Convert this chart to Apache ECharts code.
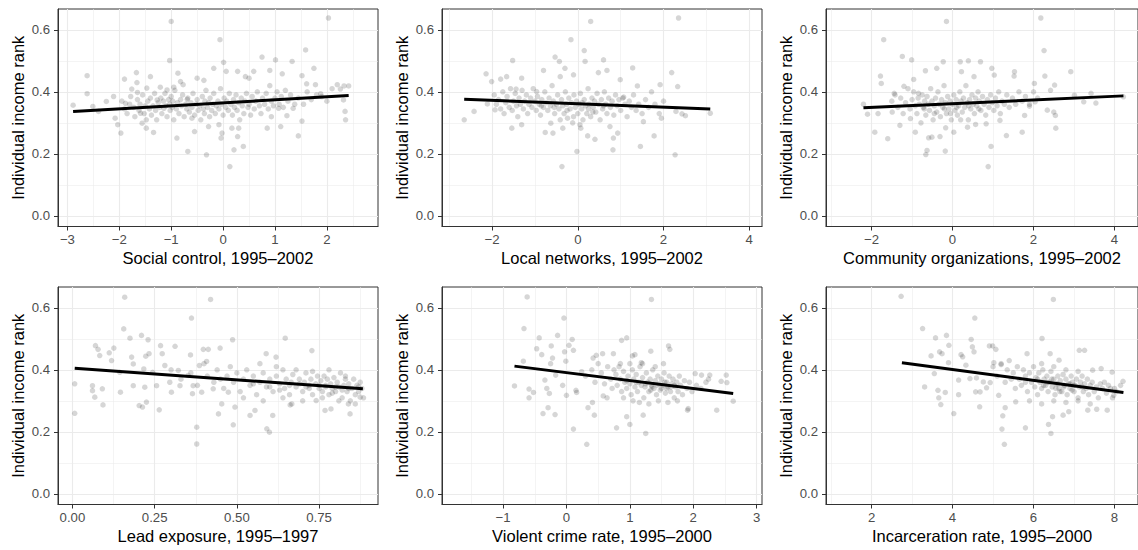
<!DOCTYPE html>
<html><head><meta charset="utf-8">
<script src="https://cdn.jsdelivr.net/npm/echarts@6/dist/echarts.min.js"></script>
<style>html,body{margin:0;padding:0;background:#fff}#c{width:1138px;height:550px}</style>
</head><body><div id="c"></div>
<script>
// ---------- DATA ----------
const yTicks = [0, 0.2, 0.4, 0.6];
const yTitle = 'Individual income rank';

const socialTicks = [-3, -2, -1, 0, 1, 2];
const networksTicks = [-2, 0, 2, 4];
const communityTicks = [-2, 0, 2, 4];
const leadTicks = [0, 0.25, 0.5, 0.75];
const crimeTicks = [-1, 0, 1, 2, 3];
const incarcTicks = [2, 4, 6, 8];

const socialFit = [[-2.89, 0.337], [2.42, 0.388]];
const networksFit = [[-2.65, 0.376], [3.09, 0.345]];
const communityFit = [[-2.20, 0.349], [4.22, 0.387]];
const leadFit = [[0.007, 0.405], [0.883, 0.339]];
const crimeFit = [[-0.82, 0.412], [2.63, 0.324]];
const incarcFit = [[2.75, 0.423], [8.22, 0.327]];

const socialPts = [
[-2.89,0.357],[-2.62,0.452],[-2.62,0.394],[-2.51,0.353],[-2.40,0.337],[-2.25,0.369],[-2.11,0.385],[-2.08,0.315],[-2.03,0.294],[-1.97,0.267],
[-1.90,0.441],[-1.88,0.363],[-1.76,0.409],[-1.67,0.462],[-1.66,0.430],[-1.65,0.398],[-1.59,0.331],[-1.56,0.299],[-1.48,0.283],[-1.47,0.412],
[-1.40,0.449],[-1.34,0.269],[-1.27,0.374],[-1.21,0.415],[-1.14,0.347],[-1.08,0.406],[-1.03,0.501],[-1.00,0.627],[-0.95,0.415],[-0.89,0.251],
[-0.87,0.460],[-0.82,0.433],[-0.77,0.423],[-0.69,0.376],[-0.68,0.208],[-0.60,0.315],[-0.55,0.272],[-0.50,0.444],[-0.37,0.437],[-0.32,0.197],
[-0.28,0.288],[-0.18,0.476],[-0.08,0.294],[-0.06,0.568],[-0.04,0.251],[-0.02,0.267],[0.01,0.495],[0.06,0.466],[0.13,0.159],[0.17,0.283],
[0.21,0.213],[0.28,0.466],[0.28,0.256],[0.30,0.283],[0.39,0.224],[0.43,0.449],[0.50,0.444],[0.59,0.466],[0.75,0.512],[0.85,0.283],
[0.90,0.469],[0.93,0.320],[1.01,0.503],[1.07,0.347],[1.11,0.288],[1.14,0.458],[1.23,0.323],[1.33,0.498],[1.35,0.347],[1.45,0.258],
[1.52,0.306],[1.52,0.452],[1.59,0.535],[1.61,0.426],[1.75,0.476],[1.78,0.423],[1.88,0.394],[2.03,0.638],[2.20,0.423],[2.26,0.409],
[2.32,0.374],[2.33,0.419],[2.35,0.337],[2.36,0.310],[2.42,0.419],
[-1.95,0.37],[-1.9,0.345],[-1.85,0.33],[-1.8,0.36],[-1.78,0.385],[-1.72,0.35],[-1.7,0.32],[-1.65,0.375],[-1.62,0.34],[-1.6,0.36],
[-1.55,0.39],[-1.52,0.33],[-1.5,0.355],[-1.48,0.31],[-1.45,0.37],[-1.42,0.345],[-1.4,0.38],[-1.38,0.325],[-1.35,0.355],[-1.32,0.395],
[-1.3,0.34],[-1.28,0.31],[-1.25,0.365],[-1.22,0.35],[-1.2,0.38],[-1.18,0.33],[-1.15,0.37],[-1.12,0.395],[-1.1,0.355],[-1.08,0.32],
[-1.05,0.375],[-1.03,0.36],[-1.02,0.34],[-1.0,0.385],[-0.98,0.35],[-0.97,0.37],[-0.95,0.31],[-0.93,0.405],[-0.9,0.345],[-0.88,0.365],
[-0.85,0.33],[-0.82,0.375],[-0.8,0.355],[-0.78,0.39],[-0.75,0.32],[-0.72,0.36],[-0.7,0.345],[-0.68,0.38],[-0.65,0.335],[-0.62,0.365],
[-0.6,0.35],[-0.58,0.395],[-0.55,0.325],[-0.52,0.36],[-0.5,0.375],[-0.48,0.34],[-0.45,0.355],[-0.43,0.31],[-0.4,0.385],[-0.38,0.345],
[-0.36,0.33],[-0.35,0.37],[-0.33,0.405],[-0.3,0.35],[-0.28,0.365],[-0.26,0.32],[-0.25,0.38],[-0.22,0.34],[-0.2,0.36],[-0.18,0.395],
[-0.15,0.33],[-0.13,0.355],[-0.1,0.37],[-0.08,0.345],[-0.05,0.41],[-0.03,0.36],[0.0,0.325],[0.02,0.38],[0.05,0.35],[0.07,0.37],
[0.1,0.34],[0.12,0.395],[0.15,0.36],[0.18,0.325],[0.2,0.375],[0.22,0.35],[0.25,0.39],[0.27,0.34],[0.3,0.365],[0.32,0.31],
[0.35,0.38],[0.37,0.355],[0.4,0.33],[0.42,0.37],[0.45,0.395],[0.48,0.35],[0.5,0.36],[0.53,0.325],[0.56,0.385],[0.6,0.345],
[0.63,0.37],[0.66,0.4],[0.7,0.355],[0.73,0.33],[0.76,0.38],[0.8,0.36],[0.83,0.395],[0.87,0.345],[0.9,0.42],[0.93,0.37],
[0.97,0.355],[1.0,0.38],[1.04,0.4],[1.08,0.36],[1.12,0.385],[1.16,0.35],[1.2,0.405],[1.25,0.37],[1.3,0.39],[1.38,0.36],
[1.45,0.38],[1.55,0.36],[1.62,0.4],[1.7,0.375],[1.8,0.39],[1.9,0.385],[2.0,0.37],[2.1,0.41]
];

const networksPts = [
[-2.65,0.310],[-2.42,0.337],[-2.14,0.458],[-2.11,0.361],[-2.01,0.433],[-1.93,0.342],[-1.80,0.441],[-1.66,0.449],[-1.54,0.283],[-1.52,0.501],
[-1.44,0.409],[-1.31,0.294],[-1.31,0.444],[-0.96,0.401],[-0.80,0.469],[-0.76,0.269],[-0.63,0.299],[-0.58,0.267],[-0.53,0.512],[-0.43,0.498],
[-0.41,0.449],[-0.37,0.159],[-0.35,0.283],[-0.30,0.476],[-0.16,0.568],[-0.10,0.455],[-0.02,0.208],[0.05,0.294],[0.07,0.283],[0.15,0.533],
[0.17,0.498],[0.23,0.258],[0.30,0.627],[0.40,0.247],[0.48,0.462],[0.60,0.503],[0.68,0.469],[0.75,0.288],[0.82,0.213],[0.83,0.251],
[0.93,0.267],[0.99,0.439],[1.07,0.383],[1.28,0.477],[1.39,0.419],[1.46,0.224],[1.53,0.304],[1.78,0.258],[1.92,0.423],[1.95,0.315],
[2.19,0.462],[2.27,0.197],[2.29,0.337],[2.33,0.417],[2.35,0.638],[2.43,0.329],[2.51,0.323],[3.09,0.331],
[-1.95,0.39],[-1.9,0.36],[-1.85,0.375],[-1.8,0.345],[-1.75,0.4],[-1.72,0.33],[-1.68,0.365],[-1.65,0.385],[-1.6,0.35],[-1.57,0.41],
[-1.53,0.34],[-1.5,0.37],[-1.46,0.395],[-1.43,0.355],[-1.4,0.32],[-1.37,0.38],[-1.34,0.36],[-1.3,0.405],[-1.27,0.345],[-1.24,0.37],
[-1.2,0.39],[-1.17,0.33],[-1.14,0.36],[-1.1,0.38],[-1.07,0.35],[-1.04,0.41],[-1.0,0.37],[-0.97,0.34],[-0.94,0.385],[-0.9,0.36],
[-0.87,0.325],[-0.84,0.375],[-0.8,0.35],[-0.77,0.4],[-0.74,0.365],[-0.7,0.34],[-0.67,0.38],[-0.64,0.355],[-0.6,0.42],[-0.57,0.37],
[-0.54,0.33],[-0.5,0.36],[-0.47,0.39],[-0.44,0.345],[-0.41,0.31],[-0.38,0.375],[-0.35,0.355],[-0.32,0.33],[-0.29,0.4],[-0.26,0.36],
[-0.24,0.315],[-0.21,0.38],[-0.18,0.345],[-0.15,0.365],[-0.12,0.3],[-0.09,0.39],[-0.06,0.35],[-0.03,0.37],[0.0,0.33],[0.03,0.36],
[0.06,0.395],[0.09,0.345],[0.12,0.31],[0.15,0.375],[0.18,0.355],[0.21,0.33],[0.24,0.41],[0.27,0.36],[0.3,0.32],[0.33,0.38],
[0.36,0.35],[0.39,0.37],[0.42,0.335],[0.45,0.395],[0.48,0.36],[0.52,0.31],[0.55,0.375],[0.58,0.345],[0.62,0.4],[0.65,0.36],
[0.68,0.33],[0.72,0.38],[0.76,0.35],[0.8,0.37],[0.84,0.325],[0.88,0.39],[0.92,0.355],[0.96,0.375],[1.0,0.34],[1.05,0.38],
[1.1,0.36],[1.15,0.32],[1.2,0.37],[1.25,0.35],[1.3,0.39],[1.36,0.34],[1.42,0.36],[1.5,0.33],[1.58,0.375],[1.65,0.35],
[1.72,0.4],[1.8,0.36],[1.9,0.33],[2.0,0.37],
[-0.55,0.35],[-0.25,0.34],[0.1,0.365],[0.35,0.335],[-0.85,0.355],[0.6,0.355],[-0.1,0.32],[0.25,0.345]
];

const communityPts = [
[-2.20,0.360],[-2.10,0.328],[-1.92,0.270],[-1.84,0.330],[-1.78,0.451],[-1.76,0.427],[-1.70,0.568],[-1.60,0.249],[-1.49,0.335],[-1.44,0.395],
[-1.30,0.292],[-1.24,0.514],[-1.20,0.418],[-1.04,0.314],[-1.01,0.503],[-0.96,0.440],[-0.92,0.270],[-0.84,0.395],[-0.67,0.468],[-0.66,0.198],
[-0.63,0.211],[-0.59,0.252],[-0.51,0.254],[-0.39,0.476],[-0.31,0.256],[-0.23,0.497],[-0.18,0.209],[-0.17,0.284],[-0.15,0.627],[0.03,0.270],
[0.19,0.497],[0.22,0.465],[0.37,0.286],[0.39,0.500],[0.53,0.449],[0.57,0.295],[0.69,0.497],[0.83,0.297],[0.88,0.159],[0.95,0.224],
[0.97,0.476],[1.03,0.454],[1.17,0.308],[1.33,0.259],[1.52,0.451],[1.53,0.465],[1.72,0.270],[1.78,0.324],[1.90,0.354],[2.02,0.427],
[2.04,0.368],[2.18,0.638],[2.26,0.533],[2.28,0.451],[2.34,0.341],[2.42,0.405],[2.50,0.335],[2.52,0.422],[2.54,0.324],[2.55,0.283],
[2.92,0.465],[3.01,0.389],[3.24,0.368],[3.42,0.395],[3.54,0.364],[4.22,0.384],
[-1.5,0.37],[-1.42,0.39],[-1.35,0.35],[-1.28,0.38],[-1.22,0.33],[-1.16,0.365],[-1.1,0.41],[-1.05,0.345],[-1.0,0.375],[-0.96,0.4],
[-0.92,0.355],[-0.88,0.33],[-0.85,0.38],[-0.82,0.36],[-0.78,0.3],[-0.75,0.39],[-0.72,0.35],[-0.69,0.37],[-0.66,0.325],[-0.63,0.385],
[-0.6,0.36],[-0.57,0.34],[-0.54,0.41],[-0.51,0.37],[-0.48,0.31],[-0.45,0.355],[-0.42,0.38],[-0.39,0.335],[-0.36,0.4],[-0.33,0.36],
[-0.3,0.32],[-0.27,0.375],[-0.24,0.35],[-0.21,0.42],[-0.18,0.365],[-0.15,0.33],[-0.12,0.385],[-0.09,0.345],[-0.06,0.37],[-0.03,0.31],
[0.0,0.36],[0.03,0.39],[0.06,0.34],[0.09,0.375],[0.12,0.325],[0.15,0.355],[0.18,0.4],[0.21,0.37],[0.24,0.335],[0.27,0.38],
[0.3,0.35],[0.33,0.42],[0.36,0.365],[0.39,0.31],[0.42,0.375],[0.45,0.345],[0.48,0.39],[0.51,0.36],[0.54,0.33],[0.57,0.38],
[0.6,0.355],[0.63,0.4],[0.66,0.37],[0.7,0.34],[0.74,0.385],[0.78,0.36],[0.82,0.325],[0.86,0.375],[0.9,0.35],[0.94,0.39],
[0.98,0.365],[1.02,0.34],[1.06,0.38],[1.1,0.355],[1.14,0.4],[1.18,0.33],[1.22,0.37],[1.28,0.36],[1.34,0.39],[1.4,0.35],
[1.48,0.38],[1.56,0.36],[1.64,0.4],[1.72,0.37],[1.8,0.385],[1.9,0.36],[2.0,0.4],[2.1,0.38],
[-0.45,0.33],[-0.2,0.345],[0.1,0.35],[0.4,0.355],[-0.7,0.345],[0.65,0.345],[0.2,0.31],[-0.05,0.33]
];

const leadPts = [
[0.007,0.355],[0.007,0.260],[0.061,0.349],[0.061,0.333],[0.068,0.312],[0.070,0.478],[0.078,0.466],[0.083,0.446],[0.091,0.339],[0.093,0.287],
[0.112,0.455],[0.119,0.430],[0.126,0.470],[0.144,0.392],[0.146,0.328],[0.156,0.532],[0.159,0.634],[0.175,0.502],[0.180,0.441],[0.185,0.419],
[0.185,0.349],[0.203,0.285],[0.210,0.511],[0.213,0.280],[0.217,0.403],[0.220,0.344],[0.223,0.444],[0.225,0.296],[0.230,0.497],[0.233,0.452],
[0.244,0.392],[0.256,0.349],[0.264,0.271],[0.268,0.478],[0.273,0.452],[0.281,0.414],[0.296,0.360],[0.301,0.328],[0.312,0.476],[0.322,0.398],
[0.327,0.349],[0.352,0.382],[0.359,0.448],[0.362,0.567],[0.365,0.323],[0.367,0.349],[0.378,0.215],[0.378,0.161],[0.386,0.414],[0.393,0.328],
[0.398,0.466],[0.408,0.427],[0.413,0.466],[0.420,0.627],[0.428,0.339],[0.444,0.258],[0.449,0.470],[0.454,0.290],[0.474,0.328],[0.487,0.497],
[0.489,0.223],[0.494,0.280],[0.540,0.253],[0.555,0.269],[0.589,0.452],[0.591,0.210],[0.599,0.199],[0.609,0.253],[0.619,0.441],[0.647,0.502],
[0.662,0.287],[0.667,0.290],[0.728,0.462],[0.741,0.301],[0.768,0.269],[0.786,0.274],[0.844,0.258],[0.839,0.290],[0.875,0.312],
[0.3,0.4],[0.33,0.37],[0.36,0.39],[0.38,0.35],[0.4,0.42],[0.41,0.38],[0.43,0.36],[0.44,0.4],[0.46,0.34],[0.47,0.38],
[0.48,0.41],[0.49,0.36],[0.5,0.39],[0.51,0.33],[0.52,0.37],[0.53,0.4],[0.54,0.35],[0.55,0.38],[0.56,0.32],[0.57,0.36],
[0.58,0.39],[0.59,0.345],[0.6,0.37],[0.61,0.33],[0.62,0.38],[0.63,0.355],[0.64,0.4],[0.645,0.34],[0.65,0.37],[0.66,0.32],
[0.665,0.36],[0.67,0.385],[0.68,0.345],[0.69,0.37],[0.7,0.33],[0.705,0.36],[0.71,0.39],[0.72,0.35],[0.725,0.37],[0.73,0.32],
[0.74,0.355],[0.745,0.38],[0.75,0.34],[0.755,0.365],[0.76,0.33],[0.765,0.38],[0.77,0.35],[0.775,0.37],[0.78,0.32],[0.785,0.355],
[0.79,0.34],[0.795,0.375],[0.8,0.33],[0.805,0.36],[0.81,0.345],[0.815,0.39],[0.82,0.31],[0.825,0.35],[0.83,0.37],[0.835,0.33],
[0.84,0.355],[0.845,0.3],[0.85,0.34],[0.855,0.37],[0.86,0.32],[0.865,0.35],[0.87,0.33],[0.875,0.36],[0.88,0.34],[0.885,0.31],
[0.57,0.42],[0.62,0.41],[0.68,0.4],[0.73,0.395],[0.78,0.4],[0.83,0.38],[0.52,0.31],[0.58,0.3],[0.64,0.31],[0.7,0.3],
[0.76,0.31],[0.81,0.3],[0.86,0.29],[0.45,0.37],[0.55,0.355],[0.6,0.345],[0.66,0.35],[0.72,0.34],[0.77,0.345],[0.82,0.335],
[0.87,0.345],[0.63,0.335],[0.69,0.355],[0.75,0.35],[0.8,0.345],[0.84,0.34],[0.79,0.325],[0.71,0.345]
];

const crimePts = [
[-0.82,0.348],[-0.68,0.428],[-0.67,0.533],[-0.62,0.635],[-0.59,0.338],[-0.59,0.310],[-0.52,0.327],[-0.47,0.468],[-0.43,0.503],[-0.39,0.449],
[-0.37,0.259],[-0.34,0.367],[-0.31,0.340],[-0.29,0.278],[-0.27,0.324],[-0.25,0.420],[-0.24,0.477],[-0.22,0.438],[-0.18,0.256],[-0.17,0.383],
[-0.14,0.511],[-0.06,0.350],[-0.04,0.567],[-0.03,0.458],[-0.01,0.428],[0.00,0.318],[0.04,0.479],[0.09,0.498],[0.11,0.463],[0.11,0.209],
[0.15,0.334],[0.16,0.327],[0.24,0.394],[0.32,0.160],[0.34,0.278],[0.41,0.295],[0.42,0.438],[0.44,0.254],[0.47,0.447],[0.57,0.452],
[0.58,0.316],[0.64,0.310],[0.74,0.452],[0.79,0.213],[0.87,0.495],[0.95,0.503],[0.95,0.249],[1.00,0.224],[1.04,0.445],[1.08,0.449],
[1.18,0.423],[1.21,0.254],[1.25,0.195],[1.33,0.460],[1.34,0.627],[1.53,0.420],[1.61,0.477],[1.63,0.466],[1.92,0.275],[1.91,0.270],
[2.03,0.388],[2.13,0.383],[2.24,0.370],[2.26,0.383],[2.37,0.270],[2.44,0.363],[2.52,0.383],[2.53,0.359],[2.63,0.299],
[0.3,0.38],[0.4,0.4],[0.45,0.36],[0.5,0.42],[0.55,0.39],[0.6,0.355],[0.65,0.41],[0.7,0.37],[0.72,0.34],[0.75,0.4],
[0.78,0.385],[0.8,0.35],[0.83,0.41],[0.85,0.37],[0.87,0.33],[0.9,0.395],[0.92,0.36],[0.95,0.34],[0.97,0.38],[1.0,0.355],
[1.02,0.32],[1.04,0.4],[1.06,0.37],[1.08,0.345],[1.1,0.385],[1.12,0.33],[1.14,0.36],[1.16,0.41],[1.18,0.35],[1.2,0.375],
[1.22,0.31],[1.24,0.345],[1.26,0.39],[1.28,0.36],[1.3,0.33],[1.32,0.37],[1.34,0.35],[1.36,0.4],[1.38,0.34],[1.4,0.365],
[1.42,0.32],[1.44,0.38],[1.46,0.355],[1.48,0.335],[1.5,0.37],[1.52,0.35],[1.54,0.39],[1.56,0.325],[1.58,0.36],[1.6,0.345],
[1.62,0.38],[1.64,0.33],[1.66,0.355],[1.68,0.37],[1.7,0.31],[1.72,0.345],[1.74,0.36],[1.76,0.33],[1.78,0.38],[1.8,0.35],
[1.83,0.32],[1.86,0.365],[1.9,0.34],[1.94,0.36],[1.98,0.33],[2.05,0.35],[2.12,0.34],[2.2,0.36],[0.9,0.31],[1.05,0.3],
[1.15,0.295],[1.3,0.29],[1.45,0.3],[1.6,0.295],[1.75,0.3],[0.85,0.42],[1.0,0.42],[1.2,0.42],[1.4,0.41],[1.1,0.36],
[1.25,0.355],[1.35,0.345],[1.5,0.34],[1.65,0.345],[0.95,0.365],[1.55,0.36],[1.43,0.35],[1.33,0.335],[1.58,0.34],[1.7,0.35]
];

const incarcPts = [
[2.73,0.637],[3.26,0.533],[3.31,0.345],[3.47,0.445],[3.55,0.388],[3.58,0.503],[3.64,0.334],[3.66,0.310],[3.68,0.458],[3.71,0.288],
[3.74,0.452],[3.82,0.327],[3.85,0.511],[3.91,0.479],[3.90,0.423],[4.03,0.259],[4.15,0.367],[4.15,0.320],[4.21,0.449],[4.25,0.442],
[4.33,0.415],[4.43,0.372],[4.46,0.498],[4.49,0.474],[4.53,0.458],[4.55,0.567],[4.57,0.329],[4.59,0.374],[4.67,0.281],[4.68,0.329],
[4.76,0.361],[4.84,0.342],[4.91,0.477],[4.93,0.359],[4.99,0.477],[5.02,0.423],[5.07,0.466],[5.14,0.318],[5.20,0.417],[5.22,0.209],
[5.24,0.252],[5.28,0.160],[5.30,0.278],[5.56,0.297],[5.80,0.213],[5.84,0.452],[6.21,0.501],[6.37,0.224],[6.43,0.195],[6.41,0.452],
[6.47,0.249],[6.49,0.627],[6.63,0.431],[6.73,0.254],[6.87,0.265],[7.13,0.463],[7.26,0.463],[7.34,0.270],[7.46,0.399],[7.56,0.273],
[7.67,0.404],[7.82,0.270],[7.94,0.393],[7.98,0.318],[8.15,0.350],[8.21,0.363],
[5.0,0.41],[5.1,0.38],[5.2,0.42],[5.3,0.36],[5.35,0.4],[5.4,0.43],[5.45,0.37],[5.5,0.39],[5.55,0.34],[5.6,0.41],
[5.65,0.37],[5.7,0.35],[5.75,0.4],[5.8,0.38],[5.85,0.33],[5.9,0.39],[5.95,0.36],[6.0,0.41],[6.03,0.345],[6.06,0.375],
[6.1,0.32],[6.13,0.39],[6.16,0.36],[6.2,0.34],[6.23,0.4],[6.26,0.37],[6.3,0.35],[6.33,0.38],[6.36,0.33],[6.4,0.36],
[6.43,0.395],[6.46,0.345],[6.5,0.37],[6.53,0.32],[6.56,0.355],[6.6,0.38],[6.63,0.34],[6.66,0.365],[6.7,0.33],[6.73,0.385],
[6.76,0.35],[6.8,0.37],[6.83,0.32],[6.86,0.355],[6.9,0.34],[6.93,0.38],[6.96,0.36],[7.0,0.33],[7.03,0.35],[7.06,0.37],
[7.1,0.31],[7.13,0.345],[7.16,0.36],[7.2,0.38],[7.23,0.33],[7.26,0.355],[7.3,0.34],[7.33,0.37],[7.36,0.32],[7.4,0.35],
[7.45,0.36],[7.5,0.33],[7.55,0.345],[7.6,0.31],[7.65,0.355],[7.7,0.34],[7.75,0.36],[7.8,0.325],[7.85,0.35],[7.9,0.34],
[7.95,0.31],[8.0,0.34],[8.05,0.33],[6.2,0.42],[6.5,0.41],[6.8,0.4],[7.1,0.395],[5.9,0.3],[6.2,0.29],[6.5,0.3],
[6.8,0.295],[7.1,0.3],[7.4,0.29],[6.1,0.37],[6.35,0.36],[6.6,0.355],[6.9,0.355],[7.2,0.345],[5.8,0.36],[6.45,0.37],
[6.25,0.35],[6.55,0.34],[6.75,0.345],[7.0,0.35],[6.65,0.33],[6.95,0.335]
];

// ---------- CHART ----------
const fontFam = '"Liberation Sans", Arial, Helvetica, sans-serif';
const minus = v => (v < 0 ? '\u2212' + String(Math.abs(v)) : String(v));

const panels = [
  {pts: socialPts, fit: socialFit, ticks: socialTicks, title: 'Social control, 1995\u20132002', range: [-3.181, 2.985], step: 1, fmt: minus},
  {pts: networksPts, fit: networksFit, ticks: networksTicks, title: 'Local networks, 1995\u20132002', range: [-3.168, 4.297], step: 2, fmt: minus},
  {pts: communityPts, fit: communityFit, ticks: communityTicks, title: 'Community organizations, 1995\u20132002', range: [-3.125, 4.58], step: 2, fmt: minus},
  {pts: leadPts, fit: leadFit, ticks: leadTicks, title: 'Lead exposure, 1995\u20131997', range: [-0.0438, 0.929], step: 0.25, fmt: v => v.toFixed(2)},
  {pts: crimePts, fit: crimeFit, ticks: crimeTicks, title: 'Violent crime rate, 1995\u20132000', range: [-1.963, 3.084], step: 1, fmt: minus},
  {pts: incarcPts, fit: incarcFit, ticks: incarcTicks, title: 'Incarceration rate, 1995\u20132000', range: [0.875, 8.58], step: 2, fmt: minus}
];

const lefts = [58, 442, 826];
const tops = [9, 287];
const grids = [], xAxes = [], yAxes = [], series = [];
const gridLine = {show: true, lineStyle: {color: '#EBEBEB', width: 1.1}};
const minorLine = {show: true, lineStyle: {color: '#EBEBEB', width: 0.55}};

panels.forEach((p, i) => {
  grids.push({left: lefts[i % 3], top: tops[Math.floor(i / 3)], width: 320, height: 217.5,
    show: true, borderColor: '#333333', borderWidth: 1, backgroundColor: '#ffffff'});
  xAxes.push({
    type: 'value', gridIndex: i, position: 'bottom', min: p.range[0], max: p.range[1],
    minInterval: p.step, maxInterval: p.step,
    name: p.title, nameLocation: 'middle', nameGap: 23,
    nameTextStyle: {fontSize: 16.5, color: '#000', fontFamily: fontFam},
    axisLine: {show: true, onZero: false, lineStyle: {color: '#333333', width: 1}},
    axisTick: {show: true, length: 4, lineStyle: {color: '#333333', width: 1}, customValues: p.ticks},
    axisLabel: {show: true, margin: 6, fontSize: 13.2, color: '#4D4D4D', fontFamily: fontFam, formatter: p.fmt, customValues: p.ticks},
    splitLine: gridLine,
    minorTick: {show: false, splitNumber: 2},
    minorSplitLine: minorLine
  });
  yAxes.push({
    type: 'value', gridIndex: i, position: 'left', min: -0.034, max: 0.667,
    minInterval: 0.2, maxInterval: 0.2,
    name: yTitle, nameLocation: 'middle', nameGap: 32,
    nameTextStyle: {fontSize: 16.5, color: '#000', fontFamily: fontFam},
    axisLine: {show: true, onZero: false, lineStyle: {color: '#333333', width: 1}},
    axisTick: {show: true, length: 4, lineStyle: {color: '#333333', width: 1}, customValues: yTicks},
    axisLabel: {show: true, margin: 8, fontSize: 13.2, color: '#4D4D4D', fontFamily: fontFam, formatter: v => v.toFixed(1), customValues: yTicks},
    splitLine: gridLine,
    minorTick: {show: false, splitNumber: 2},
    minorSplitLine: minorLine
  });
  series.push({
    type: 'scatter', xAxisIndex: i, yAxisIndex: i, data: p.pts, symbolSize: 5.5,
    itemStyle: {color: 'rgba(0,0,0,0.2)'}, silent: true
  });
  series.push({
    type: 'line', xAxisIndex: i, yAxisIndex: i, data: p.fit, symbol: 'none',
    lineStyle: {color: '#000', width: 3}, silent: true, z: 5
  });
});

const chart = echarts.init(document.getElementById('c'), null, {renderer: 'svg'});
chart.setOption({animation: false, backgroundColor: '#fff', grid: grids, xAxis: xAxes, yAxis: yAxes, series: series});
</script>
</body></html>
